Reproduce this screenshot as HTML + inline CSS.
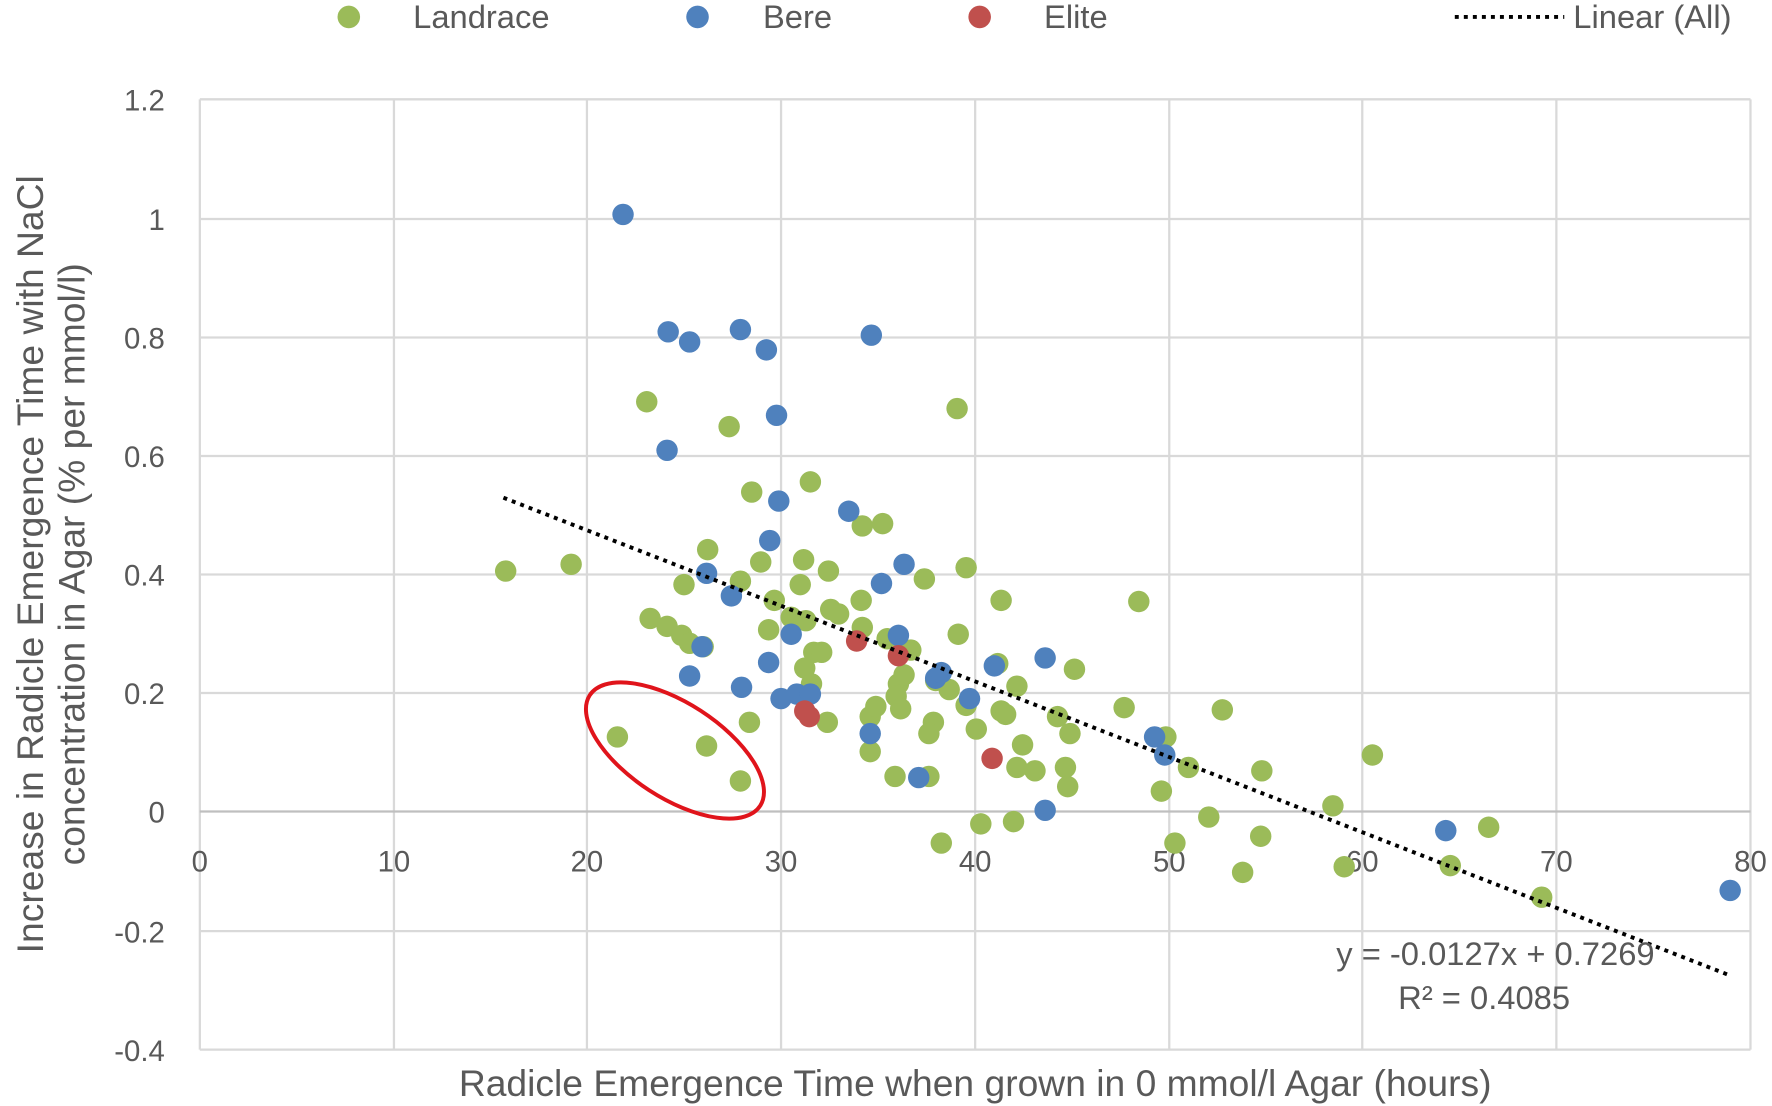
<!DOCTYPE html>
<html><head><meta charset="utf-8"><style>html,body{margin:0;padding:0;background:#fff}svg{display:block}</style></head>
<body>
<svg width="1772" height="1106" viewBox="0 0 1568 980" xmlns="http://www.w3.org/2000/svg" font-family="Liberation Sans, sans-serif" fill="#595959">
<g stroke="#d9d9d9" stroke-width="2">
<line x1="176" y1="88" x2="1550" y2="88"/><line x1="176" y1="194" x2="1550" y2="194"/><line x1="176" y1="299" x2="1550" y2="299"/><line x1="176" y1="404" x2="1550" y2="404"/><line x1="176" y1="509" x2="1550" y2="509"/><line x1="176" y1="614" x2="1550" y2="614"/><line x1="176" y1="825" x2="1550" y2="825"/><line x1="176" y1="930" x2="1550" y2="930"/>
<line x1="176" y1="88" x2="176" y2="930"/><line x1="348" y1="88" x2="348" y2="930"/><line x1="519" y1="88" x2="519" y2="930"/><line x1="691" y1="88" x2="691" y2="930"/><line x1="863" y1="88" x2="863" y2="930"/><line x1="1035" y1="88" x2="1035" y2="930"/><line x1="1206" y1="88" x2="1206" y2="930"/><line x1="1378" y1="88" x2="1378" y2="930"/><line x1="1550" y1="88" x2="1550" y2="930"/>
</g>
<line x1="176" y1="719" x2="1550" y2="719" stroke="#bfbfbf" stroke-width="2"/>
<g font-size="26" text-anchor="end">
<text x="145" y="98">1.2</text><text x="145" y="204">1</text><text x="145" y="309">0.8</text><text x="145" y="414">0.6</text><text x="145" y="519">0.4</text><text x="145" y="624">0.2</text><text x="145" y="729">0</text><text x="145" y="835">-0.2</text><text x="145" y="940">-0.4</text>
</g>
<g font-size="26" text-anchor="middle">
<text x="176" y="772">0</text><text x="348" y="772">10</text><text x="519" y="772">20</text><text x="691" y="772">30</text><text x="863" y="772">40</text><text x="1035" y="772">50</text><text x="1206" y="772">60</text><text x="1378" y="772">70</text><text x="1550" y="772">80</text>
</g>
<text x="863" y="971" font-size="33" text-anchor="middle">Radicle Emergence Time when grown in 0 mmol/l Agar (hours)</text>
<g font-size="33" text-anchor="middle">
<text transform="translate(37,500) rotate(-90)">Increase in Radicle Emergence Time with NaCl</text>
<text transform="translate(74,500) rotate(-90)">concentration in Agar (% per mmol/l)</text>
</g>
<g fill="#9bbb59">
<circle cx="447" cy="506" r="9.5"/><circle cx="505" cy="500" r="9.5"/><circle cx="572" cy="356" r="9.5"/><circle cx="645" cy="378" r="9.5"/><circle cx="665" cy="436" r="9.5"/><circle cx="717" cy="427" r="9.5"/><circle cx="847" cy="362" r="9.5"/><circle cx="626" cy="487" r="9.5"/><circle cx="605" cy="518" r="9.5"/><circle cx="655" cy="515" r="9.5"/><circle cx="673" cy="498" r="9.5"/><circle cx="711" cy="496" r="9.5"/><circle cx="733" cy="506" r="9.5"/><circle cx="708" cy="518" r="9.5"/><circle cx="685" cy="532" r="9.5"/><circle cx="575" cy="548" r="9.5"/><circle cx="590" cy="555" r="9.5"/><circle cx="603" cy="563" r="9.5"/><circle cx="610" cy="570" r="9.5"/><circle cx="622" cy="573" r="9.5"/><circle cx="680" cy="558" r="9.5"/><circle cx="700" cy="547" r="9.5"/><circle cx="713" cy="550" r="9.5"/><circle cx="735" cy="540" r="9.5"/><circle cx="742" cy="544" r="9.5"/><circle cx="762" cy="532" r="9.5"/><circle cx="763" cy="466" r="9.5"/><circle cx="781" cy="464" r="9.5"/><circle cx="818" cy="513" r="9.5"/><circle cx="855" cy="503" r="9.5"/><circle cx="886" cy="532" r="9.5"/><circle cx="1008" cy="533" r="9.5"/><circle cx="712" cy="592" r="9.5"/><circle cx="720" cy="578" r="9.5"/><circle cx="727" cy="578" r="9.5"/><circle cx="763" cy="556" r="9.5"/><circle cx="785" cy="566" r="9.5"/><circle cx="806" cy="576" r="9.5"/><circle cx="848" cy="562" r="9.5"/><circle cx="718" cy="606" r="9.5"/><circle cx="732" cy="640" r="9.5"/><circle cx="663" cy="640" r="9.5"/><circle cx="770" cy="635" r="9.5"/><circle cx="775" cy="626" r="9.5"/><circle cx="795" cy="606" r="9.5"/><circle cx="800" cy="598" r="9.5"/><circle cx="793" cy="617" r="9.5"/><circle cx="797" cy="628" r="9.5"/><circle cx="828" cy="603" r="9.5"/><circle cx="840" cy="611" r="9.5"/><circle cx="855" cy="625" r="9.5"/><circle cx="883" cy="588" r="9.5"/><circle cx="886" cy="630" r="9.5"/><circle cx="890" cy="633" r="9.5"/><circle cx="900" cy="608" r="9.5"/><circle cx="951" cy="593" r="9.5"/><circle cx="936" cy="635" r="9.5"/><circle cx="947" cy="650" r="9.5"/><circle cx="864" cy="646" r="9.5"/><circle cx="826" cy="640" r="9.5"/><circle cx="822" cy="650" r="9.5"/><circle cx="770" cy="666" r="9.5"/><circle cx="792" cy="688" r="9.5"/><circle cx="822" cy="688" r="9.5"/><circle cx="905" cy="660" r="9.5"/><circle cx="900" cy="680" r="9.5"/><circle cx="916" cy="683" r="9.5"/><circle cx="943" cy="680" r="9.5"/><circle cx="945" cy="697" r="9.5"/><circle cx="995" cy="627" r="9.5"/><circle cx="1032" cy="653" r="9.5"/><circle cx="1052" cy="680" r="9.5"/><circle cx="1082" cy="629" r="9.5"/><circle cx="1028" cy="701" r="9.5"/><circle cx="1117" cy="683" r="9.5"/><circle cx="1215" cy="669" r="9.5"/><circle cx="1180" cy="714" r="9.5"/><circle cx="1070" cy="724" r="9.5"/><circle cx="1040" cy="747" r="9.5"/><circle cx="1116" cy="741" r="9.5"/><circle cx="1100" cy="773" r="9.5"/><circle cx="1190" cy="768" r="9.5"/><circle cx="1284" cy="767" r="9.5"/><circle cx="1318" cy="733" r="9.5"/><circle cx="1365" cy="795" r="9.5"/><circle cx="833" cy="747" r="9.5"/><circle cx="868" cy="730" r="9.5"/><circle cx="897" cy="728" r="9.5"/><circle cx="546" cy="653" r="9.5"/><circle cx="625" cy="661" r="9.5"/><circle cx="655" cy="692" r="9.5"/>
</g>
<g fill="#4f81bd">
<circle cx="551" cy="190" r="9.5"/><circle cx="591" cy="294" r="9.5"/><circle cx="610" cy="303" r="9.5"/><circle cx="655" cy="292" r="9.5"/><circle cx="678" cy="310" r="9.5"/><circle cx="771" cy="297" r="9.5"/><circle cx="687" cy="368" r="9.5"/><circle cx="590" cy="399" r="9.5"/><circle cx="689" cy="444" r="9.5"/><circle cx="751" cy="453" r="9.5"/><circle cx="681" cy="479" r="9.5"/><circle cx="800" cy="500" r="9.5"/><circle cx="780" cy="517" r="9.5"/><circle cx="625" cy="508" r="9.5"/><circle cx="647" cy="528" r="9.5"/><circle cx="700" cy="562" r="9.5"/><circle cx="621" cy="573" r="9.5"/><circle cx="610" cy="599" r="9.5"/><circle cx="680" cy="587" r="9.5"/><circle cx="656" cy="609" r="9.5"/><circle cx="795" cy="563" r="9.5"/><circle cx="691" cy="619" r="9.5"/><circle cx="705" cy="615" r="9.5"/><circle cx="717" cy="615" r="9.5"/><circle cx="828" cy="601" r="9.5"/><circle cx="833" cy="596" r="9.5"/><circle cx="858" cy="619" r="9.5"/><circle cx="880" cy="590" r="9.5"/><circle cx="925" cy="583" r="9.5"/><circle cx="770" cy="650" r="9.5"/><circle cx="813" cy="689" r="9.5"/><circle cx="925" cy="718" r="9.5"/><circle cx="1022" cy="653" r="9.5"/><circle cx="1031" cy="669" r="9.5"/><circle cx="1280" cy="736" r="9.5"/><circle cx="1532" cy="789" r="9.5"/>
</g>
<g fill="#c0504d">
<circle cx="758" cy="568" r="9.5"/><circle cx="795" cy="581" r="9.5"/><circle cx="712" cy="630" r="9.5"/><circle cx="716" cy="635" r="9.5"/><circle cx="878" cy="672" r="9.5"/>
</g>
<line x1="445" y1="441" x2="1531" y2="864" stroke="#000" stroke-width="3.5" stroke-dasharray="3.5,4.5"/>
<ellipse cx="597" cy="665" rx="90" ry="42" transform="rotate(33 597 665)" fill="none" stroke="#e0141b" stroke-width="3.5"/>
<g font-size="29" text-anchor="middle">
<text x="1324" y="855">y = -0.0127x + 0.7269</text>
<text x="1314" y="894">R² = 0.4085</text>
</g>
<g font-size="29">
<circle cx="308" cy="15" r="10" fill="#9bbb59"/><text x="365" y="25">Landrace</text>
<circle cx="617" cy="15" r="10" fill="#4f81bd"/><text x="675" y="25">Bere</text>
<circle cx="867" cy="15" r="10" fill="#c0504d"/><text x="924" y="25">Elite</text>
<line x1="1288" y1="15" x2="1385" y2="15" stroke="#000" stroke-width="3.5" stroke-dasharray="3.5,4.5"/>
<text x="1393" y="25">Linear (All)</text>
</g>
</svg>
</body></html>
